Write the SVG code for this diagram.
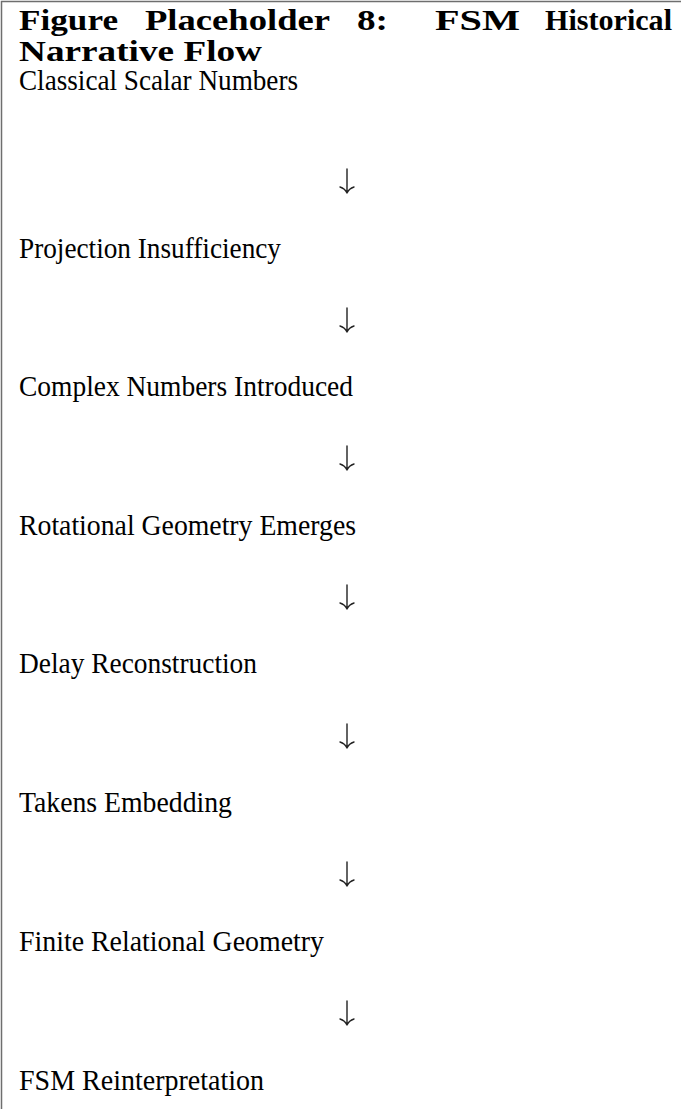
<svg xmlns="http://www.w3.org/2000/svg" width="681" height="1109" viewBox="0 0 681 1109">
<style>
.t{font-family:"Liberation Serif","DejaVu Serif",serif;font-size:28.5px;fill:#000}
.h{font-family:"Liberation Serif","DejaVu Serif",serif;font-size:28.5px;font-weight:bold;fill:#000}
.frame{stroke:#6e6e6e;stroke-width:1.5;fill:none}
.arr{stroke:#222;stroke-width:1.4;fill:none;stroke-linecap:round}
</style>
<defs>
<path id="dn" d="M0,-12 V12 M-7,6 Q-2,7.5 0,12 M7,6 Q2,7.5 0,12"/>
</defs>
<rect width="681" height="1109" fill="#fff"/>
<path class="frame" d="M1.5,1109 V1.5 H681"/>
<g id="title">
<text class="h" x="19" y="29.5" textLength="99" lengthAdjust="spacingAndGlyphs">Figure</text>
<text class="h" x="145" y="29.5" textLength="185" lengthAdjust="spacingAndGlyphs">Placeholder</text>
<text class="h" x="357" y="29.5" textLength="31" lengthAdjust="spacingAndGlyphs">8:</text>
<text class="h" x="435" y="29.5" textLength="85" lengthAdjust="spacingAndGlyphs">FSM</text>
<text class="h" x="545" y="29.5" textLength="127" lengthAdjust="spacingAndGlyphs">Historical</text>
<text class="h" x="19" y="61" textLength="243" lengthAdjust="spacingAndGlyphs">Narrative Flow</text>
</g>
<g id="n1"><text class="t" x="19" y="90" textLength="279" lengthAdjust="spacingAndGlyphs">Classical Scalar Numbers</text></g>
<g id="n2"><text class="t" x="19" y="258" textLength="262" lengthAdjust="spacingAndGlyphs">Projection Insufficiency</text></g>
<g id="n3"><text class="t" x="19" y="396" textLength="334" lengthAdjust="spacingAndGlyphs">Complex Numbers Introduced</text></g>
<g id="n4"><text class="t" x="19" y="535" textLength="337" lengthAdjust="spacingAndGlyphs">Rotational Geometry Emerges</text></g>
<g id="n5"><text class="t" x="19" y="673" textLength="238" lengthAdjust="spacingAndGlyphs">Delay Reconstruction</text></g>
<g id="n6"><text class="t" x="19" y="812" textLength="213" lengthAdjust="spacingAndGlyphs">Takens Embedding</text></g>
<g id="n7"><text class="t" x="19" y="951" textLength="305" lengthAdjust="spacingAndGlyphs">Finite Relational Geometry</text></g>
<g id="n8"><text class="t" x="19" y="1090" textLength="245" lengthAdjust="spacingAndGlyphs">FSM Reinterpretation</text></g>
<g id="connectors" class="arr">
<use href="#dn" x="347" y="181"/>
<use href="#dn" x="347" y="320"/>
<use href="#dn" x="347" y="458"/>
<use href="#dn" x="347" y="597"/>
<use href="#dn" x="347" y="736"/>
<use href="#dn" x="347" y="874"/>
<use href="#dn" x="347" y="1013"/>
</g>
</svg>
